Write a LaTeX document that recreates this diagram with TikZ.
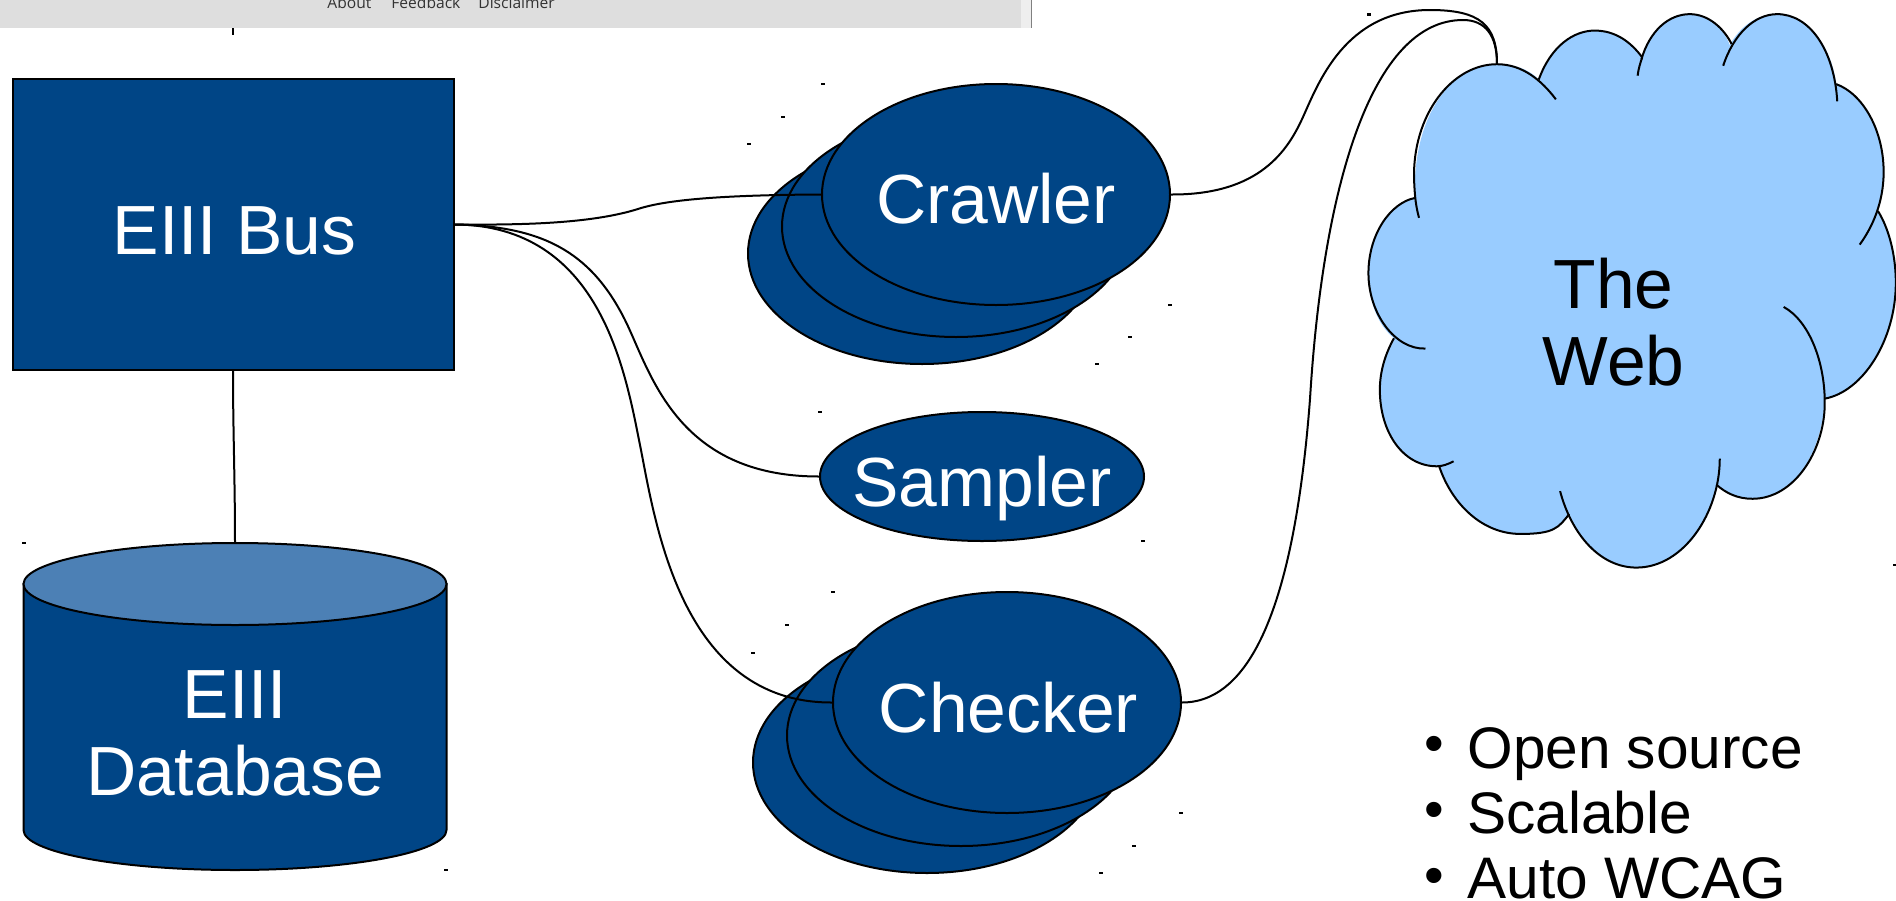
\documentclass[tikz,border=0pt]{standalone}
\usepackage{fontspec}
\setmainfont{Liberation Sans}
\newfontfamily\barfont{Open Sans}
\usetikzlibrary{shapes.geometric}
\definecolor{eblue}{HTML}{004586}
\definecolor{etop}{HTML}{4C80B5}
\definecolor{cloudblue}{HTML}{99CCFF}
\definecolor{barlight}{HTML}{DEDEDE}
\definecolor{barstrip}{HTML}{EEEEEE}
\definecolor{bartext}{HTML}{333333}
\tikzset{
  lw/.style={line width=1pt,draw=black},
  conn/.style={line width=1pt,draw=black,line join=round},
  ell/.style={ellipse,lw,fill=eblue,inner sep=0pt,text=white,font=\fontsize{34.8}{39}\selectfont,text depth=0pt},
  backell/.style={ellipse,lw,fill=eblue,inner sep=0pt},
  bullettext/.style={font=\fontsize{29.3}{32}\selectfont,inner sep=0pt,anchor=base west},
  bulletdot/.style={font=\fontsize{28}{28}\selectfont,inner sep=0pt,anchor=base},
  speck/.style={fill=black,draw=none,minimum width=1.6pt,minimum height=1.4pt,inner sep=0pt,outer sep=0pt,rectangle},
  barlabel/.style={font=\barfont\fontsize{7.8}{9}\selectfont,text=bartext,inner sep=0pt,anchor=base west},
  cloudline/.style={line width=1pt,draw=black,line cap=butt}
}
\begin{document}
\begin{tikzpicture}[x=0.5pt,y=-0.5pt]
\useasboundingbox (0,0) rectangle (1896,900);
% browser footer strip
\fill[barlight] (0,0) rectangle (1021,28);
\fill[barstrip] (1021,0) rectangle (1031,28);
\draw[line width=0.7pt,draw=black!50] (1031.5,0) -- (1031.5,28);
\node[barlabel] (about) at (327,8) {About};
\node[barlabel] (feedback) at (391,8) {Feedback};
\node[barlabel] (disclaimer) at (478,8) {Disclaimer};
\coordinate (tickTop) at (233,28);
\coordinate (tickEnd) at (233,35);
\draw[line width=0.6pt] (tickTop) -- (tickEnd);

% cloud
\begin{scope}[shift={(1300,0)},x=0.19011pt,y=-0.1911pt]
\fill[cloudblue]
 (302,518) .. controls (295,300) and (400,168) .. (518,168)
 .. controls (565,168) and (600,180) .. (628,208)
 .. controls (660,120) and (720,80) .. (775,80)
 .. controls (830,80) and (870,110) .. (900,150)
 .. controls (920,80) and (970,37) .. (1025,37)
 .. controls (1075,37) and (1115,75) .. (1130,118)
 .. controls (1155,75) and (1195,37) .. (1255,37)
 .. controls (1340,37) and (1400,130) .. (1410,220)
 .. controls (1480,245) and (1535,340) .. (1535,450)
 .. controls (1535,485) and (1530,520) .. (1520,552)
 .. controls (1550,600) and (1567,670) .. (1567,740)
 .. controls (1567,890) and (1480,1025) .. (1380,1043)
 .. controls (1375,1180) and (1300,1305) .. (1190,1305)
 .. controls (1150,1305) and (1120,1290) .. (1095,1268)
 .. controls (1075,1390) and (990,1485) .. (885,1485)
 .. controls (800,1485) and (740,1420) .. (708,1345)
 .. controls (680,1380) and (670,1397) .. (580,1397)
 .. controls (480,1397) and (400,1320) .. (366,1220)
 .. controls (270,1220) and (210,1130) .. (210,1020)
 .. controls (210,970) and (225,925) .. (247,885)
 .. controls (205,850) and (180,790) .. (180,715)
 .. controls (180,610) and (240,530) .. (302,518) -- cycle;
% A
\draw[cloudline] (313,570) .. controls (305,540) and (302,518) .. (300,470)
 .. controls (295,300) and (400,168) .. (518,168)
 .. controls (585,168) and (635,210) .. (673,260);
% B
\draw[cloudline] (628,208) .. controls (660,120) and (720,80) .. (775,80)
 .. controls (830,80) and (870,110) .. (900,150);
\draw[cloudline] (900,150) .. controls (895,165) and (890,180) .. (888,198);
% C
\draw[cloudline] (898,155) .. controls (920,80) and (970,37) .. (1025,37)
 .. controls (1075,37) and (1115,75) .. (1135,115);
% D
\draw[cloudline] (1113,172) .. controls (1140,90) and (1195,37) .. (1255,37)
 .. controls (1340,37) and (1405,130) .. (1413,265);
% E
\draw[cloudline] (1410,220) .. controls (1480,245) and (1535,340) .. (1535,450)
 .. controls (1535,530) and (1505,595) .. (1472,640);
% F
\draw[cloudline] (1520,552) .. controls (1550,600) and (1567,670) .. (1567,740)
 .. controls (1567,890) and (1480,1025) .. (1380,1043);
% G
\draw[cloudline] (1272,803) .. controls (1340,840) and (1382,950) .. (1380,1060)
 .. controls (1378,1180) and (1300,1305) .. (1190,1305)
 .. controls (1150,1305) and (1120,1290) .. (1095,1268);
% H
\draw[cloudline] (1104,1200) .. controls (1104,1340) and (1010,1485) .. (885,1485)
 .. controls (790,1485) and (715,1400) .. (684,1285);
% I
\draw[cloudline] (708,1345) .. controls (680,1380) and (670,1397) .. (580,1397)
 .. controls (480,1397) and (400,1320) .. (366,1220);
% J
\draw[cloudline] (404,1207) .. controls (390,1214) and (375,1220) .. (360,1220)
 .. controls (270,1220) and (210,1130) .. (210,1020)
 .. controls (210,970) and (225,925) .. (247,885);
% K
\draw[cloudline] (330,912) .. controls (250,915) and (180,820) .. (180,715)
 .. controls (180,610) and (240,530) .. (302,518);
\end{scope}
\coordinate (webport) at (1497,64);
\node[font=\fontsize{34.8}{39}\selectfont,inner sep=0pt,anchor=base] (webA) at (1613.5,308) {The};
\node[font=\fontsize{34.8}{39}\selectfont,inner sep=0pt,anchor=base] (webB) at (1613.5,385.5) {Web};

% bus
\node[rectangle,lw,fill=eblue,minimum width=441*0.5pt,minimum height=291*0.5pt,inner sep=0pt,text=white,
  font=\fontsize{34.8}{39}\selectfont,text height=29.5pt,text depth=0pt] (bus) at (233,224.5) {\hspace*{1.5pt}EIII Bus};

% database
\coordinate (dbtop) at (235,543);
\draw[lw,fill=eblue] (23.5,584) -- (23.5,830)
  arc[start angle=180,end angle=360,x radius=211.5,y radius=-40] -- (446.5,584) -- cycle;
\draw[lw,fill=etop] (235,584) ellipse[x radius=211.5,y radius=41];
\node[font=\fontsize{34.8}{39}\selectfont,text=white,inner sep=0pt,anchor=base] (dbA) at (235,718) {EIII};
\node[font=\fontsize{34.8}{39}\selectfont,text=white,inner sep=0pt,anchor=base] (dbB) at (235,795) {Database};
\draw[conn] (bus.south) .. controls (233,430) and (235,480) .. (dbtop);

% ellipses: back ones
\node[backell,minimum width=348*0.5pt,minimum height=221*0.5pt] (crawlerC) at (922,253.5) {};
\node[backell,minimum width=348*0.5pt,minimum height=221*0.5pt] (crawlerB) at (956,226.5) {};
\node[backell,minimum width=348*0.5pt,minimum height=221*0.5pt] (checkerC) at (927,762.5) {};
\node[backell,minimum width=348*0.5pt,minimum height=221*0.5pt] (checkerB) at (961,735.5) {};

% front ellipses
\node[ell,minimum width=348*0.5pt,minimum height=221*0.5pt,text height=28.5pt] (crawler) at (996,194.5) {\makebox[0pt]{Crawler}};
\node[ell,minimum width=324*0.5pt,minimum height=129*0.5pt,text height=29.5pt] (sampler) at (982,476.5) {\makebox[0pt]{Sampler}};
\node[ell,minimum width=348*0.5pt,minimum height=221*0.5pt,text height=29.5pt] (checker) at (1007,702.5) {\makebox[0pt]{\hspace*{1.5pt}Checker}};

% connectors
\draw[conn] (bus.east) .. controls (520,225) and (590,224) .. (638,209)
  .. controls (665,200) and (720,195) .. (crawler.west);
\draw[conn] (bus.east) .. controls (540,226) and (590,250) .. (625,320)
  .. controls (650,370) and (675,476.5) .. (sampler.west);
\draw[conn] (bus.east) .. controls (600,225) and (625,370) .. (640,445)
  .. controls (655,520) and (680,703) .. (checker.west);
\draw[conn] (crawler.east) .. controls (1260,195) and (1288,150) .. (1303,117)
  .. controls (1318,84) and (1345,10) .. (1430,10)
  .. controls (1480,10) and (1497,25) .. (webport);
\draw[conn] (checker.east) .. controls (1262,702.5) and (1297,570) .. (1310,399)
  .. controls (1323,185) and (1372,20) .. (1463,20)
  .. controls (1485,20) and (1497,35) .. (webport);

% bullets
\node[bulletdot] (b1) at (1434,762) {•};
\node[bulletdot] (b2) at (1434,828) {•};
\node[bulletdot] (b3) at (1434,894) {•};
\node[bullettext] (t1) at (1467,768) {Open source};
\node[bullettext] (t2) at (1467,833) {Scalable};
\node[bullettext] (t3) at (1467,898) {Auto WCAG};

% small selection specks
\foreach \n/\a/\b in {s1/823/84,s2/783/117,s3/749/144,s4/1170/305,s5/1130/337,s6/1097/364,s7/820/412,s8/1143/541,s9/833/592,s10/787/625,s11/753/653,s12/1181/813,s13/1134/846,s14/1101/873,s15/24/543,s16/446/870,s17/1369/14.5,s18/1895/565}
  \node[speck] (\n) at (\a,\b) {};
\end{tikzpicture}
\end{document}
